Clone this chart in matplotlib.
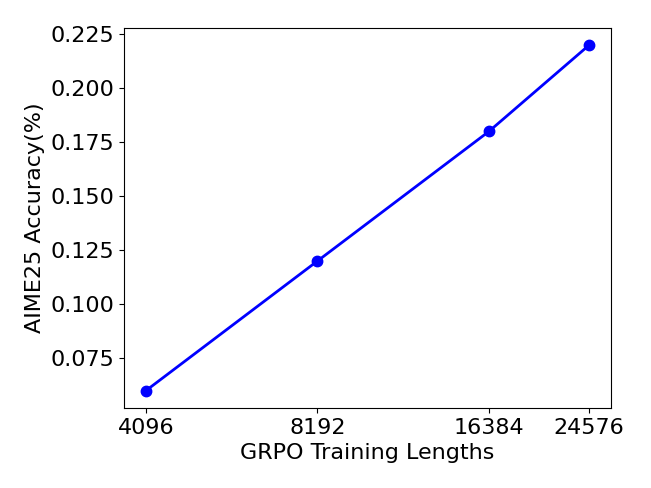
import matplotlib
matplotlib.use('Agg')
import matplotlib.pyplot as plt
from matplotlib.ticker import FixedLocator, FixedFormatter, NullLocator

lengths = [4096, 8192, 16384, 24576]
accuracy = [0.06, 0.12, 0.18, 0.22]
tick_labels = ['4096', '8192', '16384', '24576']

fig = plt.figure(figsize=(6.51, 4.88), dpi=100)
ax = fig.add_axes([0.19, 0.164, 0.749, 0.779])

ax.plot(lengths, accuracy, color='blue', marker='o', markersize=7.5, linewidth=2)
ax.set_xscale('log', base=2)
ax.xaxis.set_major_locator(FixedLocator(lengths))
ax.xaxis.set_major_formatter(FixedFormatter(tick_labels))
ax.xaxis.set_minor_locator(NullLocator())

ax.set_xlabel('GRPO Training Lengths', fontsize=16)
ax.set_ylabel('AIME25 Accuracy(%)', fontsize=16)
ax.tick_params(labelsize=16)

fig.savefig('out.png', dpi=100)
